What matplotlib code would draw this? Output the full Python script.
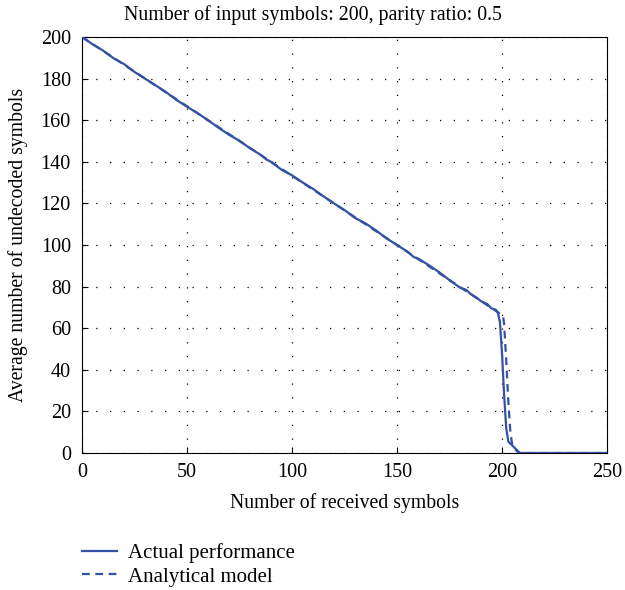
import matplotlib
matplotlib.use("Agg")
import matplotlib.pyplot as plt

plt.rcParams['font.family'] = ['Liberation Serif', 'DejaVu Serif']

actual_x = [0, 5, 10, 15, 20, 25, 30, 35, 40, 45, 50, 55, 60, 65, 70, 75, 80, 85, 88, 90,
            95, 100, 105, 110, 115, 120, 125, 130, 135, 140, 145, 150, 155, 158, 160, 165,
            170, 175, 180, 183, 185, 188, 190, 193, 195, 197, 198, 199, 200, 201, 202, 203,
            205, 207, 208.5, 250]
actual_y = [200, 196.5, 193.5, 189.8, 187, 183.2, 180, 176.8, 173.5, 169.7, 166.5, 163.4,
            160, 156.4, 153, 150.1, 146.5, 143.4, 141, 140, 136.2, 133.5, 130.1, 127, 123.4,
            120, 116.8, 113, 110.4, 107, 103.2, 100, 96.8, 94.2, 93.5, 90.4, 87, 83.1, 79.5,
            78.4, 76.5, 74.6, 73, 71.6, 69.5, 68.9, 67.5, 63, 48, 28, 12, 5.5, 3.5, 1.5,
            0, 0]

model_x = [0, 50, 100, 150, 199, 200.5, 201, 202, 203, 204, 205, 206, 208, 250]
model_y = [200, 166.7, 133.3, 100, 67, 66, 62, 45, 25, 10, 3, 2, 0, 0]

xticks = [0, 50, 100, 150, 200, 250]
yticks = [0, 20, 40, 60, 80, 100, 120, 140, 160, 180, 200]

color = '#3352a5'

fig = plt.figure(figsize=(6.25, 5.9), dpi=100)
ax = fig.add_axes([0.1312, 0.2322, 0.8400, 0.7051])

l1, = ax.plot(actual_x, actual_y, color=color, lw=1.6, label='Actual performance', zorder=3)
l2, = ax.plot(model_x, model_y, color=color, lw=1.6, ls=(0, (3.5, 2.5)),
              label='Analytical model', zorder=2)

ax.set_xlim(0, 250)
ax.set_ylim(0, 200)
ax.set_xticks(xticks)
ax.set_yticks(yticks)
ax.tick_params(direction='in', labelsize=14.5, length=4, top=False, right=False)
ax.tick_params(axis='x', pad=7.5)
ax.tick_params(axis='y', pad=8)
ax.grid(True, color='black', ls=(0, (1, 10)), lw=0.9)
ax.set_title('Number of input symbols: 200, parity ratio: 0.5', fontsize=14.3, pad=12,
             x=0.439)
ax.set_xlabel('Number of received symbols', fontsize=14.2, labelpad=8)
ax.set_ylabel('Average number of undecoded symbols', fontsize=14.2, labelpad=9)
for s in ax.spines.values():
    s.set_linewidth(0.8)

fig.legend(handles=[l1, l2], loc='upper left', bbox_to_anchor=(0.131, 0.0795),
           frameon=False, fontsize=15, handlelength=1.7, handletextpad=0.53,
           labelspacing=0.2, borderaxespad=0, borderpad=0)

fig.savefig('out.png', dpi=100)
